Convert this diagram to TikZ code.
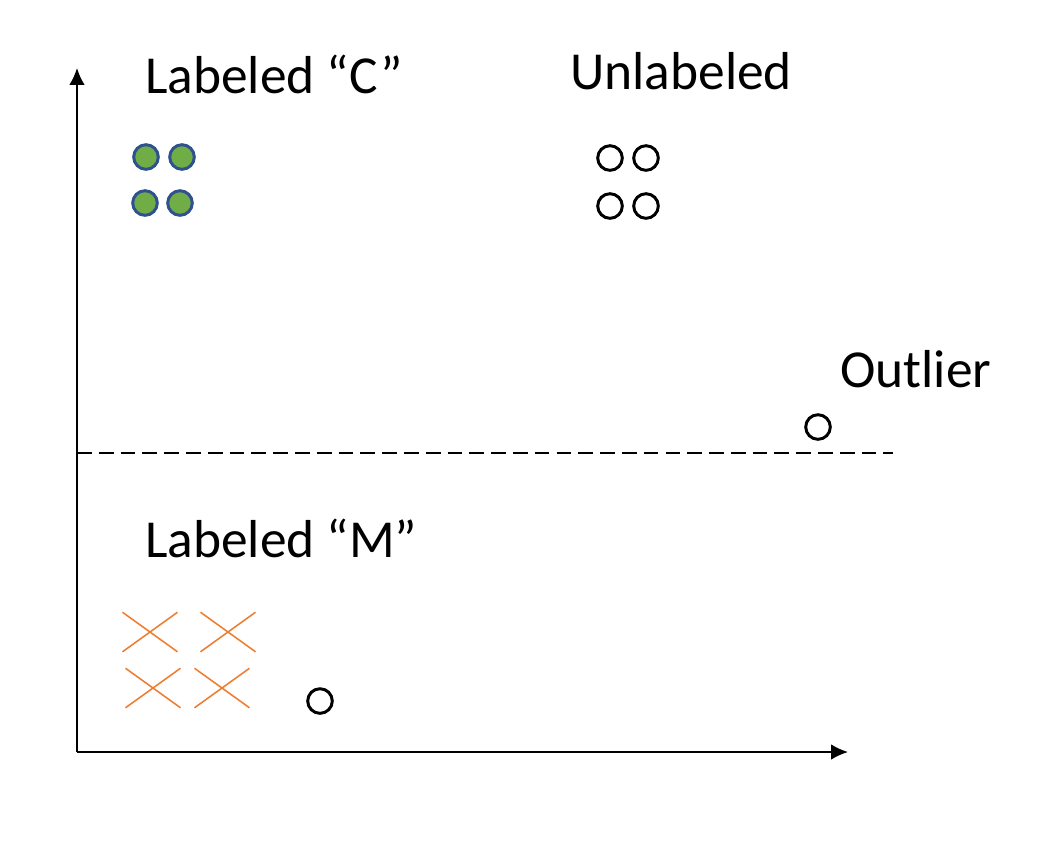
\documentclass[tikz,border=0pt]{standalone}
\usepackage{fontspec}
\setmainfont{Carlito}
\usetikzlibrary{shapes.misc, arrows.meta}
\definecolor{cgreen}{HTML}{70AD47}
\definecolor{cblue}{HTML}{2F528F}
\definecolor{corange}{HTML}{ED7D31}

\begin{document}
\begin{tikzpicture}[x=0.025cm, y=-0.025cm,
		label text/.style={anchor=base west, inner sep=0pt, font=\fontsize{38}{44}\selectfont},
		cpoint/.style={circle, draw=cblue, fill=cgreen, line width=2.1pt, inner sep=0pt, minimum size=17.5pt},
		upoint/.style={circle, draw=black, line width=2.1pt, inner sep=0pt, minimum size=17.5pt},
		mpoint/.style={cross out, draw=corange, line width=1.1pt, inner sep=0pt, minimum width=38pt, minimum height=27pt}]
			\useasboundingbox (0, 0) rectangle (1040, 844);

			% axes
			\coordinate (origin) at (77, 752);
			\coordinate (ytop) at (77, 68);
			\coordinate (xend) at (848, 752);
			\draw[line width=1.2pt, -{Latex[length=12pt, width=11pt]}] (origin) -- (ytop);
			\draw[line width=1.2pt, -{Latex[length=12pt, width=11pt]}] (origin) -- (xend);

			% threshold
			\coordinate (dashstart) at (77, 453);
			\coordinate (dashend) at (893, 453);
			\draw[line width=0.9pt, dash pattern=on 10.5pt off 5pt] (dashstart) -- (dashend);

			\node[label text] (labelC) at (145, 93) {Labeled “C”};
			\node[label text] (labelU) at (570, 89) {Unlabeled};
			\node[label text] (labelO) at (840, 387) {Outlier};
			\node[label text] (labelM) at (145, 557) {Labeled “M”};

			\node[cpoint] (c1) at (146, 157) {};
			\node[cpoint] (c2) at (182, 157) {};
			\node[cpoint] (c3) at (145, 203) {};
			\node[cpoint] (c4) at (180, 203) {};

			\node[upoint] (u1) at (610, 158) {};
			\node[upoint] (u2) at (646, 158) {};
			\node[upoint] (u3) at (610, 206) {};
			\node[upoint] (u4) at (646, 206) {};

			\node[upoint] (outlier) at (818, 427) {};
			\node[upoint] (u5) at (320, 701) {};

			\node[mpoint] (m1) at (150, 632) {};
			\node[mpoint] (m2) at (228, 632) {};
			\node[mpoint] (m3) at (153, 688) {};
			\node[mpoint] (m4) at (222, 688) {};
		\end{tikzpicture}
\end{document}
